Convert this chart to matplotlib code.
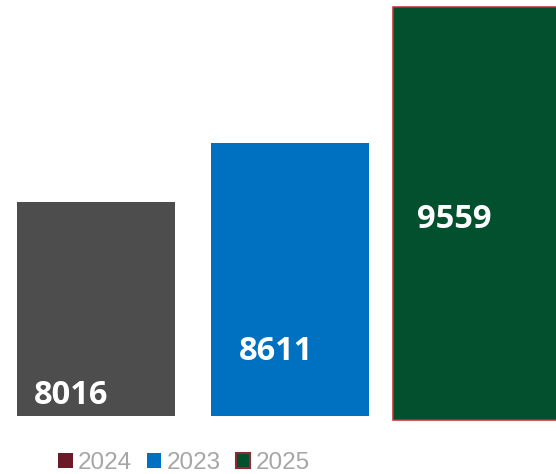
import matplotlib
matplotlib.use('Agg')
import matplotlib.pyplot as plt
from matplotlib.patches import Patch

# ---- data ----
categories = ['2024', '2023', '2025']
values = [8016, 8611, 9559]
label_texts = ['8016', '8611', '9559']

# ---- styles ----
bar_colors = ['#4d4d4d', '#0070c0', '#03502f']
legend_colors = ['#6b1b27', '#0070c0', '#03502f']
legend_edges = ['none', 'none', '#8c2a33']
bar_widths = [0.814, 0.814, 0.94]
label_dx = [0.088, 0.144, 0.124]      # offset from bar left edge (data units)
label_y = [0.029, 0.137, 0.46]        # baseline position (axes fraction)

W, H = 556, 474
fig = plt.figure(figsize=(W / 100, H / 100), dpi=100)
ax = fig.add_axes([0, (H - 416) / H, 1, 409 / H])
ax.set_xlim(-96 / 194, 460 / 194)
ax.set_ylim(5858, 9981)
ax.axis('off')

ax2 = ax.twinx()
ax2.set_ylim(92.6, 9559)
ax2.axis('off')

x = list(range(len(values)))
# first two bars on primary axis
ax.bar(x[:2], values[:2], width=bar_widths[:2], color=bar_colors[:2], linewidth=0)
# 2025 bar on secondary axis
ax2.bar(x[2:], values[2:], width=bar_widths[2:], color=bar_colors[2:],
        edgecolor='#c8282e', linewidth=1.1, clip_on=False)

for i, t in enumerate(label_texts):
    left = x[i] - bar_widths[i] / 2
    ax2.text(left + label_dx[i], label_y[i], t, transform=ax2.get_xaxis_transform(),
             ha='left', va='baseline', color='white', fontsize=23.5,
             fontweight='bold', family='Open Sans', zorder=5)

handles = [Patch(facecolor=c, edgecolor=e, linewidth=1.5)
           for c, e in zip(legend_colors, legend_edges)]
fig.legend(handles, categories, loc='lower left',
           bbox_to_anchor=(58 / W, 0), ncol=3, frameon=False,
           prop={'family': 'Liberation Sans', 'size': 17.5},
           labelcolor='#a6a6a6', handlelength=0.6, handleheight=0.55,
           handletextpad=0.21, columnspacing=0.62, borderpad=0, borderaxespad=0)

fig.savefig('out.png', dpi=100)
